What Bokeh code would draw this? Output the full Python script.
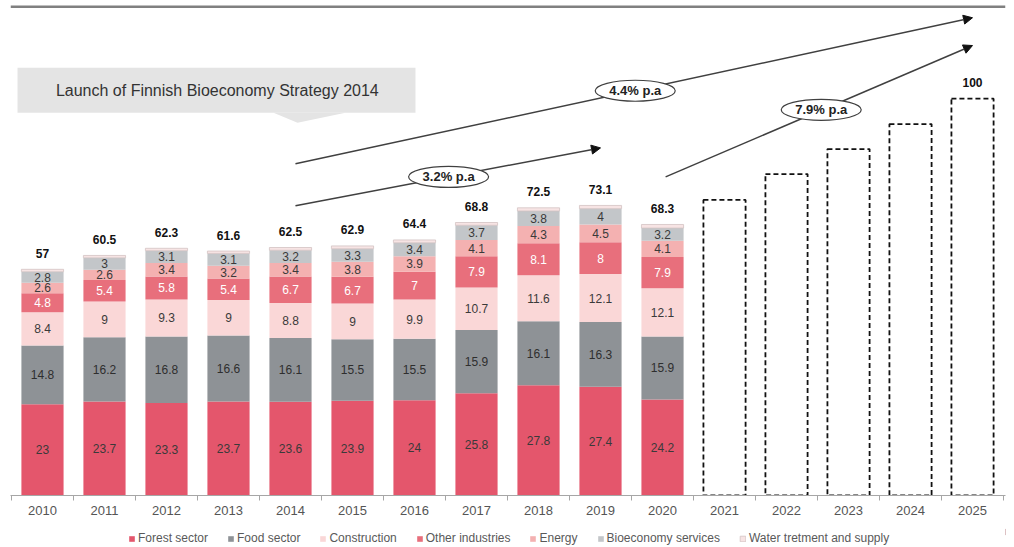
import numpy as np
from bokeh.plotting import figure
from bokeh.layouts import column
from bokeh.models import (ColumnDataSource, FixedTicker, Legend, LegendItem,
                          Arrow, NormalHead, Span, Label)
from bokeh.core.properties import value
from bokeh.embed import file_html
from bokeh.resources import INLINE

# ---------------- data ----------------
years = [2010, 2011, 2012, 2013, 2014, 2015, 2016, 2017, 2018, 2019, 2020]
forest = [23, 23.7, 23.3, 23.7, 23.6, 23.9, 24, 25.8, 27.8, 27.4, 24.2]
food = [14.8, 16.2, 16.8, 16.6, 16.1, 15.5, 15.5, 15.9, 16.1, 16.3, 15.9]
construction = [8.4, 9, 9.3, 9, 8.8, 9, 9.9, 10.7, 11.6, 12.1, 12.1]
other_ind = [4.8, 5.4, 5.8, 5.4, 6.7, 6.7, 7, 7.9, 8.1, 8, 7.9]
energy = [2.6, 2.6, 3.4, 3.2, 3.4, 3.8, 3.9, 4.1, 4.3, 4.5, 4.1]
bio_services = [2.8, 3, 3.1, 3.1, 3.2, 3.3, 3.4, 3.7, 3.8, 4, 3.2]
water = [0.6, 0.6, 0.6, 0.6, 0.7, 0.7, 0.7, 0.7, 0.8, 0.8, 0.9]
totals = [57, 60.5, 62.3, 61.6, 62.5, 62.9, 64.4, 68.8, 72.5, 73.1, 68.3]

proj_years = [2021, 2022, 2023, 2024, 2025]
proj_totals = [74.5, 81, 87.3, 93.6, 100]
proj_labels = ["", "", "", "", "100"]

tick_years = years + proj_years
tick_labels = [str(y) for y in tick_years]

series_keys = ["forest", "food", "construction", "other", "energy", "bio", "water"]
series_names = ["Forest sector", "Food sector", "Construction", "Other industries",
                "Energy", "Bioeconomy services", "Water tretment and supply"]
series_values = [forest, food, construction, other_ind, energy, bio_services, water]
colors = ["#E4566C", "#8E9296", "#FAD7D7", "#E86F7C", "#F4B1B1", "#C3C6C9", "#F7E4E4"]
line_colors = [None] * 6 + ["#D3C3C3"]
label_colors = ["#3A3A3A", "#2E2E2E", "#3A3A3A", "#FFFFFF", "#3A3A3A", "#3A3A3A", None]

growth_labels = ["4.4% p.a", "3.2% p.a", "7.9% p.a"]
callout_text = "Launch of Finnish Bioeconomy Strategy 2014"

FONT = "Liberation Sans"

# ---------------- main figure ----------------
p = figure(width=1010, height=517, x_range=(2009.484, 2025.532), y_range=(0, 124.75),
           output_backend="svg", toolbar_location=None,
           min_border_left=10, min_border_right=5, min_border_top=0, min_border_bottom=0)
p.outline_line_color = None
p.grid.visible = False
p.yaxis.visible = False

data = {"x": years}
for k, v in zip(series_keys, series_values):
    data[k] = v
src = ColumnDataSource(data)

p.vbar_stack(series_keys, x="x", width=0.68, source=src,
             fill_color=colors, line_color=line_colors, line_width=0.8)

# segment labels
lx, ly, lt, lc = [], [], [], []
bottoms = np.zeros(len(years))
for vals, col in zip(series_values, label_colors):
    arr = np.array(vals, dtype=float)
    if col is not None:
        for i, yv in enumerate(years):
            lx.append(yv)
            ly.append(bottoms[i] + arr[i] / 2)
            lt.append(f"{arr[i]:g}")
            lc.append(col)
    bottoms = bottoms + arr
seg_src = ColumnDataSource(dict(x=lx, y=ly, t=lt, c=lc))
p.text(x="x", y="y", text="t", text_color="c", source=seg_src,
       text_align="center", text_baseline="middle", text_font_size="12px",
       text_font=value(FONT))

# total labels
tot_src = ColumnDataSource(dict(x=years + proj_years, y=totals + proj_totals,
                                t=[f"{t:g}" for t in totals] + proj_labels))
p.text(x="x", y="y", text="t", source=tot_src, text_align="center",
       text_baseline="middle", y_offset=-16, text_font_size="12px",
       text_font_style="bold", text_color="#111111", text_font=value(FONT))

# projected (dashed) bars
p.vbar(x=proj_years, top=proj_totals, bottom=0, width=0.68, fill_color=None,
       line_color="#111111", line_width=1.8, line_dash="5 3")

# callout box
p.quad(left=[2009.597], right=[2016.016], top=[107.83], bottom=[96.46],
       fill_color="#E4E4E4", line_color=None)
p.patch(x=[2013.726, 2014.887, 2014.113], y=[96.46, 96.46, 93.94],
        fill_color="#E4E4E4", line_color=None)
p.add_layout(Label(x=2012.82, y=102.1, text=callout_text, text_align="center",
                   text_baseline="middle", text_font_size="16px",
                   text_color="#333333", text_font=FONT))

# growth arrows
arrows = [((2014.08, 83.6), (2025.0, 120.4)),
          ((2014.08, 73.0), (2019.0, 87.6)),
          ((2020.05, 80.3), (2025.0, 113.4))]
for (x0, y0), (x1, y1) in arrows:
    p.add_layout(Arrow(x_start=x0, y_start=y0, x_end=x1, y_end=y1,
                       line_color="#404040", line_width=1.5, level="underlay",
                       end=NormalHead(size=9, fill_color="#111111",
                                      line_color="#111111")))

ell_x = [2019.56, 2016.55, 2022.56]
ell_y = [102.0, 80.3, 97.2]
p.ellipse(x=ell_x, y=ell_y, width=80, height=21, width_units="screen",
          height_units="screen", fill_color="white", line_color="#404040",
          line_width=1.2)
p.text(x=ell_x, y=ell_y, text=growth_labels, text_align="center",
       text_baseline="middle", text_font_size="13px", text_font_style="bold",
       text_color="#222222", text_font=value(FONT))

# top rule
p.add_layout(Span(location=123.2, dimension="width", line_color="#808080",
                  line_width=2.5))

# x axis
p.xaxis.ticker = FixedTicker(ticks=tick_years,
                             minor_ticks=[y - 0.5 for y in tick_years] + [tick_years[-1] + 0.5])
p.xaxis.major_label_overrides = {y: l for y, l in zip(tick_years, tick_labels)}
p.xaxis.axis_line_color = "#A6A6A6"
p.xaxis.minor_tick_line_color = "#A6A6A6"
p.xaxis.minor_tick_out = 5
p.xaxis.minor_tick_in = 0
p.xaxis.major_tick_line_color = None
p.xaxis.major_tick_out = 5
p.xaxis.major_tick_in = 0
p.xaxis.major_label_standoff = 5
p.xaxis.major_label_text_font_size = "13px"
p.xaxis.major_label_text_color = "#555555"
p.xaxis.major_label_text_font = FONT

# ---------------- legend strip ----------------
pl = figure(width=1010, height=29, x_range=(0, 1), y_range=(0, 1),
            output_backend="svg", toolbar_location=None,
            min_border_left=0, min_border_right=0, min_border_top=0, min_border_bottom=0)
pl.outline_line_color = None
pl.grid.visible = False
pl.axis.visible = False
items = []
for n, fc, lcol in zip(series_names, colors, line_colors):
    r = pl.vbar(x=[5], top=[0.6], bottom=[0.4], width=0.1, fill_color=fc,
                line_color=lcol, line_width=0.8)
    items.append(LegendItem(label=n, renderers=[r]))
legend = Legend(items=items, orientation="horizontal", location=(118, 1),
                glyph_width=7, glyph_height=7, label_standoff=3, spacing=19,
                label_text_font_size="12px", label_text_color="#595959",
                label_text_font=FONT, border_line_color=None,
                background_fill_alpha=0, padding=0, margin=0, label_height=12)
pl.add_layout(legend)

layout = column(p, pl, spacing=0)
open("out.html", "w").write(file_html(layout, INLINE))
